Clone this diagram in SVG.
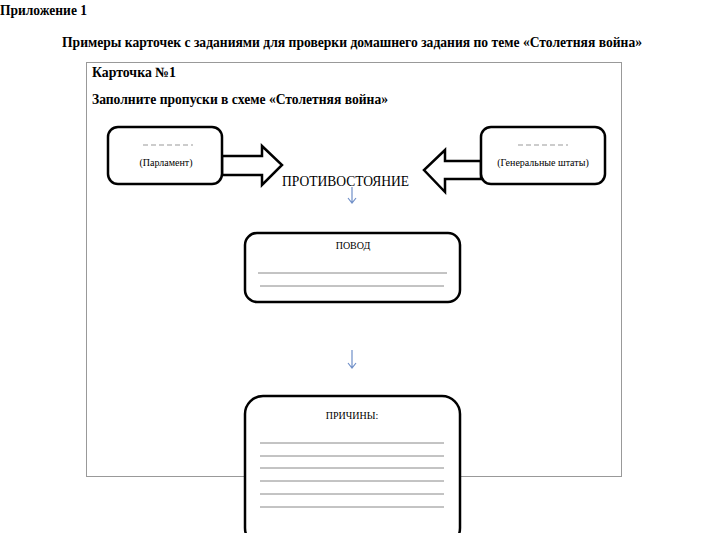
<svg xmlns="http://www.w3.org/2000/svg" width="704" height="533" viewBox="0 0 704 533">
<style>
.t{font-family:"Liberation Serif","Times New Roman",serif;fill:#000}
.b{font-weight:bold;font-size:14px}
.box{fill:#fff;stroke:#000;stroke-width:2.5}
.ln{stroke:#888;stroke-width:1}
.ar{fill:#fff;stroke:#000;stroke-width:2.5;stroke-linejoin:miter}
.sm{font-size:10px}
.dash{stroke:#999;stroke-width:1;stroke-dasharray:5,3}
.blue{stroke:#6f8fc8;stroke-width:1.2;fill:none}
</style>
<rect width="704" height="533" fill="#fff"/>
<text class="t b" x="0" y="15" textLength="87" lengthAdjust="spacingAndGlyphs">Приложение 1</text>
<text class="t b" x="62" y="47" textLength="580" lengthAdjust="spacingAndGlyphs">Примеры карточек с заданиями для проверки домашнего задания по теме «Столетняя война»</text>
<rect x="86.5" y="62.5" width="535" height="414" fill="none" stroke="#999" stroke-width="1"/>
<text class="t b" x="92" y="77" textLength="84" lengthAdjust="spacingAndGlyphs">Карточка №1</text>
<text class="t b" x="92" y="104" textLength="296" lengthAdjust="spacingAndGlyphs">Заполните пропуски в схеме «Столетняя война»</text>
<g id="arrow-left-to-center">
<polygon class="ar" points="222,156 262,156 262,146 282,165 262,185 262,175 222,175"/>
</g>
<g id="arrow-right-to-center">
<polygon class="ar" points="481,161 445,161 445,150 424,170 445,192 445,179 481,179"/>
</g>
<g id="parliament">
<rect class="box" x="108" y="127" width="114" height="57" rx="10"/>
<line class="dash" x1="143" y1="145" x2="193" y2="145"/>
<text class="t sm" x="166" y="166" text-anchor="middle">(Парламент)</text>
</g>
<g id="estates">
<rect class="box" x="481" y="127" width="124" height="57" rx="10"/>
<line class="dash" x1="518" y1="145" x2="568" y2="145"/>
<text class="t sm" x="543" y="166" text-anchor="middle">(Генеральные штаты)</text>
</g>
<g id="center">
<text class="t" x="282" y="186" font-size="14" textLength="127" lengthAdjust="spacingAndGlyphs">ПРОТИВОСТОЯНИЕ</text>
</g>
<g id="connectors">
<path class="blue" d="M352,187 V203 M348,198 L352,203 L356,198"/>
<path class="blue" d="M352,350 V368 M348,363 L352,368 L356,363"/>
</g>
<g id="povod">
<rect class="box" x="245" y="233" width="215" height="69" rx="12"/>
<text class="t sm" x="353" y="249" text-anchor="middle">ПОВОД</text>
<line class="ln" x1="258" y1="273" x2="447" y2="273"/>
<line class="ln" x1="260" y1="286" x2="444" y2="286"/>
</g>
<g id="prichiny">
<rect class="box" x="245" y="396" width="215" height="150" rx="18"/>
<text class="t sm" x="352" y="419" text-anchor="middle">ПРИЧИНЫ:</text>
<line class="ln" x1="260" y1="443" x2="444" y2="443"/>
<line class="ln" x1="260" y1="456" x2="444" y2="456"/>
<line class="ln" x1="260" y1="468" x2="444" y2="468"/>
<line class="ln" x1="260" y1="481" x2="444" y2="481"/>
<line class="ln" x1="260" y1="494" x2="444" y2="494"/>
<line class="ln" x1="260" y1="507" x2="444" y2="507"/>
</g>
</svg>
